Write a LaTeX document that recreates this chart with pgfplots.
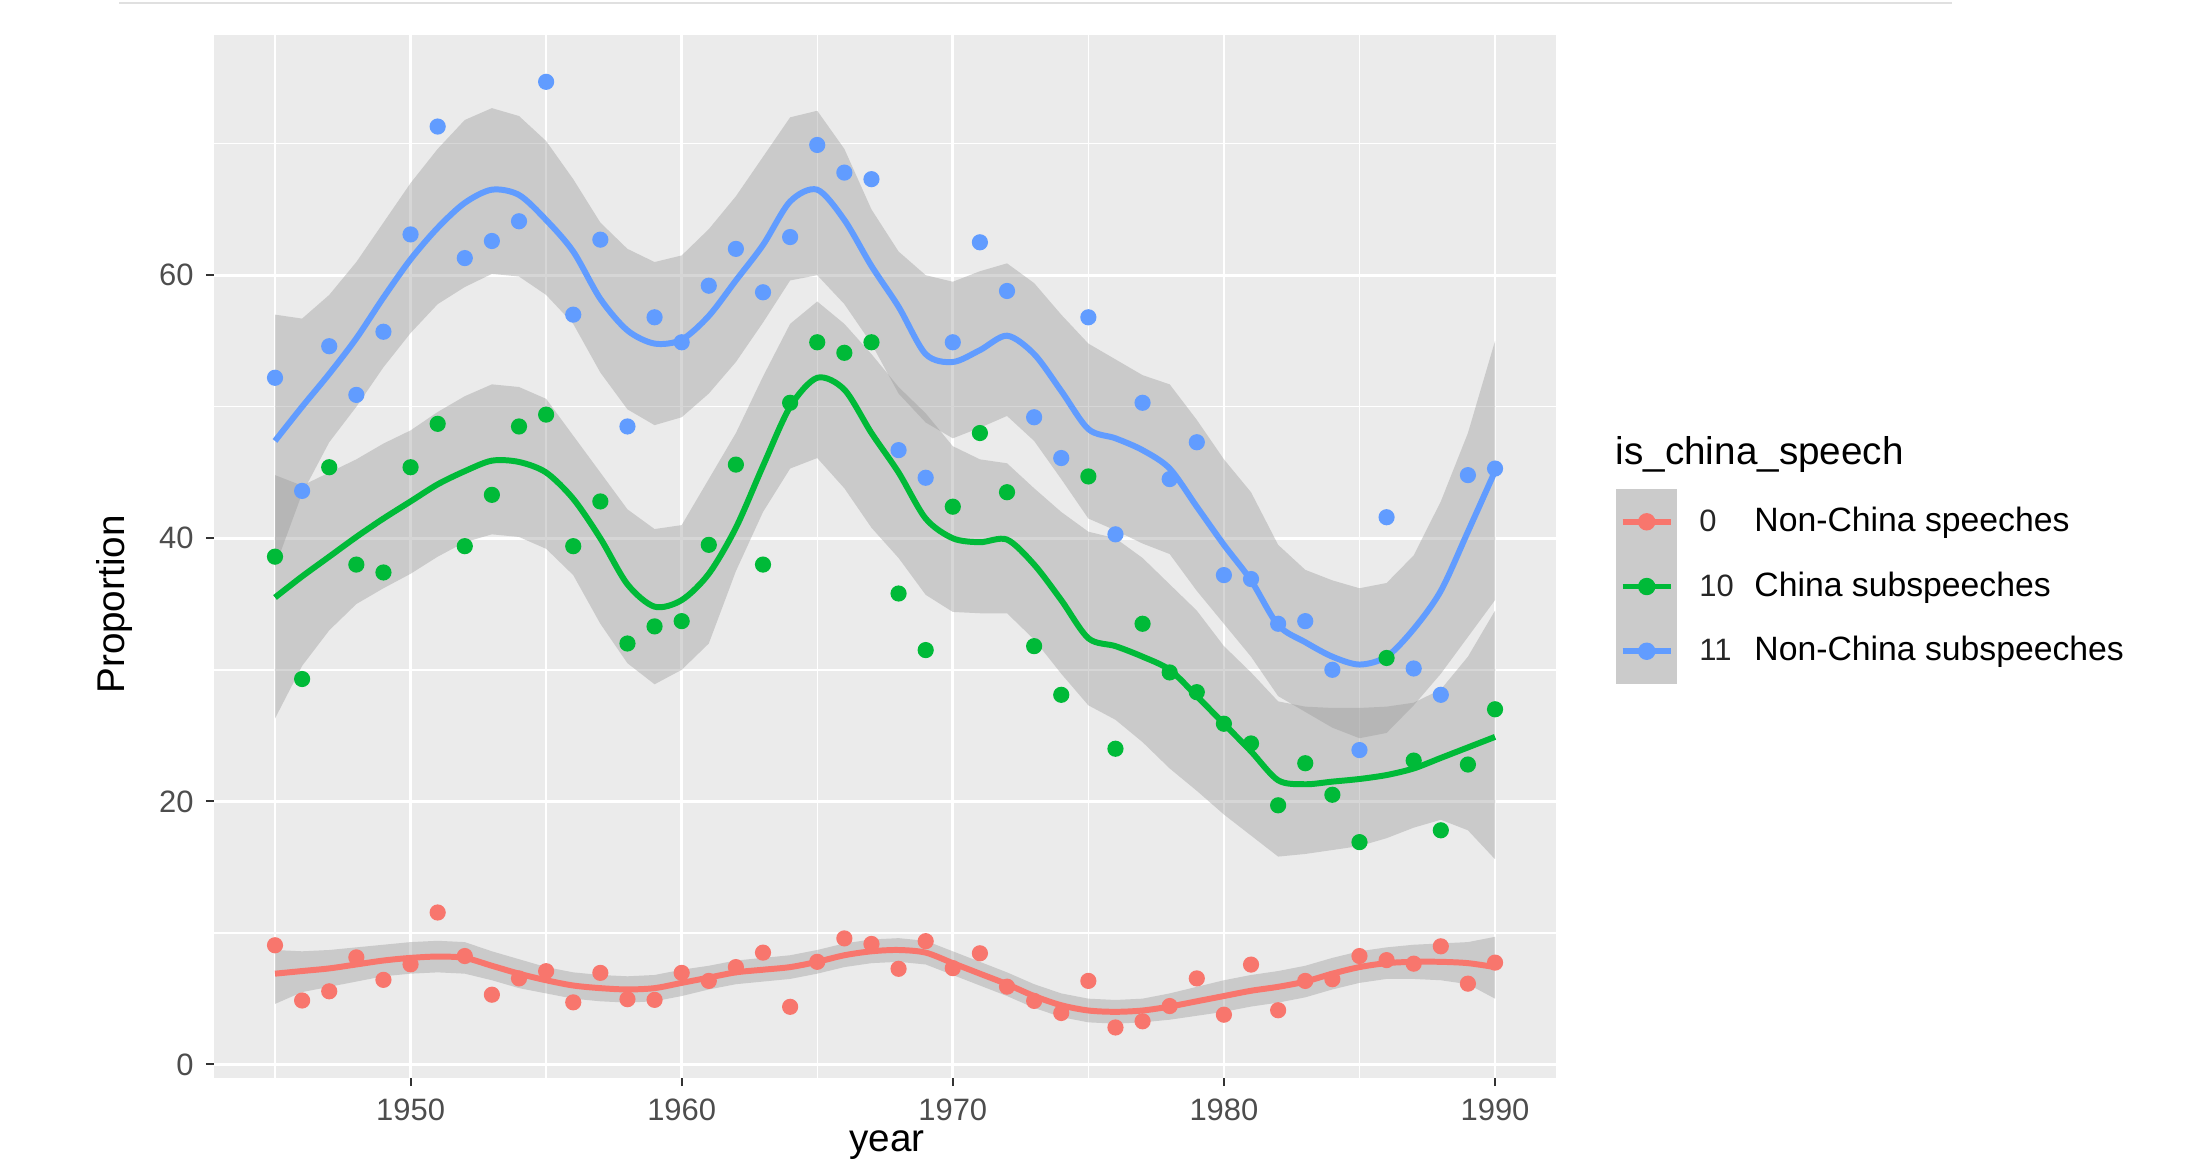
\documentclass[border=0pt]{standalone}
\usepackage{pgfplots}
\pgfplotsset{compat=1.18}
\usepackage{pgfplotstable}
\usepgfplotslibrary{fillbetween}
\usepackage{fontspec}
\setmainfont{Liberation Sans}
\definecolor{ggred}{HTML}{F8766D}
\definecolor{gggreen}{HTML}{00BA38}
\definecolor{ggblue}{HTML}{619CFF}
\definecolor{ggbg}{HTML}{EBEBEB}
\definecolor{ggribbon}{HTML}{999999}
\definecolor{ggtick}{HTML}{333333}
\definecolor{ggtext}{HTML}{4D4D4D}
\definecolor{keybg}{HTML}{CBCBCB}

\pgfplotstableread{
year pt fit up lo
1945 9.06 6.9 8.7 4.6
1946 4.86 7.1 8.6 5.5
1947 5.56 7.3 8.7 5.9
1948 8.14 7.6 8.9 6.3
1949 6.43 7.9 9.1 6.7
1950 7.61 8.1 9.3 6.9
1951 11.55 8.2 9.4 7.0
1952 8.24 8.1 9.3 6.9
1953 5.30 7.5 8.6 6.4
1954 6.54 6.9 8.0 5.8
1955 7.09 6.4 7.4 5.4
1956 4.72 6.0 7.0 5.0
1957 6.96 5.8 6.8 4.8
1958 4.96 5.7 6.7 4.7
1959 4.91 5.8 6.8 4.8
1960 6.96 6.2 7.2 5.2
1961 6.35 6.6 7.5 5.7
1962 7.40 7.0 7.9 6.1
1963 8.50 7.2 8.1 6.3
1964 4.38 7.4 8.3 6.5
1965 7.80 7.8 8.7 6.9
1966 9.58 8.3 9.2 7.4
1967 9.16 8.6 9.5 7.7
1968 7.27 8.7 9.6 7.8
1969 9.37 8.5 9.4 7.6
1970 7.32 7.7 8.6 6.8
1971 8.45 6.9 7.8 6.0
1972 5.91 6.1 7.0 5.2
1973 4.83 5.2 6.1 4.3
1974 3.91 4.5 5.4 3.6
1975 6.35 4.1 5.0 3.2
1976 2.81 4.0 4.9 3.1
1977 3.28 4.1 5.0 3.2
1978 4.44 4.4 5.4 3.4
1979 6.54 4.8 5.9 3.7
1980 3.78 5.2 6.4 4.0
1981 7.59 5.6 6.8 4.4
1982 4.12 5.9 7.1 4.7
1983 6.35 6.3 7.5 5.1
1984 6.48 6.9 8.1 5.7
1985 8.24 7.4 8.6 6.2
1986 7.93 7.7 8.9 6.5
1987 7.66 7.8 9.1 6.5
1988 8.98 7.8 9.2 6.4
1989 6.14 7.7 9.3 6.1
1990 7.74 7.4 9.7 5.0
}\redtab

\pgfplotstableread{
year pt fit up lo
1945 38.6 35.5 44.8 26.3
1946 29.3 37.1 44.0 30.3
1947 45.4 38.6 45.0 33.0
1948 38.0 40.1 46.0 35.0
1949 37.4 41.5 47.2 36.2
1950 45.4 42.8 48.2 37.3
1951 48.7 44.1 49.6 38.6
1952 39.4 45.1 50.8 39.7
1953 43.3 45.9 51.7 40.3
1954 48.5 45.8 51.5 40.1
1955 49.4 45.0 50.6 39.2
1956 39.4 43.0 47.8 37.2
1957 42.8 40.0 45.0 33.5
1958 32.0 36.5 42.2 30.5
1959 33.3 34.8 40.7 28.9
1960 33.7 35.3 41.0 30.0
1961 39.5 37.3 44.5 32.0
1962 45.6 40.8 48.0 37.5
1963 38.0 45.5 52.3 42.0
1964 50.3 50.0 56.3 45.3
1965 54.9 52.2 58.0 46.1
1966 54.1 51.3 56.3 43.8
1967 54.9 48.0 54.0 40.8
1968 35.8 45.0 51.5 38.5
1969 31.5 41.5 49.5 35.7
1970 42.4 40.0 47.0 34.4
1971 48.0 39.7 46.0 34.3
1972 43.5 39.9 45.7 34.3
1973 31.8 38.0 43.8 32.3
1974 28.1 35.3 42.0 29.7
1975 44.7 32.4 40.5 27.3
1976 24.0 31.8 40.0 26.2
1977 33.5 31.0 38.5 24.5
1978 29.8 30.0 36.5 22.5
1979 28.3 28.0 34.5 20.8
1980 25.9 25.9 31.8 19.0
1981 24.4 23.8 29.8 17.4
1982 19.7 21.6 27.6 15.8
1983 22.9 21.3 27.2 16.0
1984 20.5 21.5 27.1 16.3
1985 16.9 21.7 27.1 16.6
1986 30.9 22.0 27.2 17.2
1987 23.1 22.5 27.5 18.0
1988 17.8 23.3 28.5 18.6
1989 22.8 24.1 31.0 17.8
1990 27.0 24.9 34.5 15.6
}\greentab

\pgfplotstableread{
year pt fit up lo
1945 52.2 47.4 57.0 37.8
1946 43.6 50.0 56.7 43.4
1947 54.6 52.5 58.5 47.3
1948 50.9 55.2 61.0 50.0
1949 55.7 58.3 64.0 53.0
1950 63.1 61.2 67.0 55.6
1951 71.3 63.6 69.6 57.8
1952 61.3 65.5 71.8 59.1
1953 62.6 66.5 72.7 60.1
1954 64.1 66.1 72.1 59.9
1955 74.7 64.2 70.2 58.5
1956 57.0 61.8 67.3 56.3
1957 62.7 58.2 64.0 52.6
1958 48.5 55.8 62.0 49.8
1959 56.8 54.8 61.0 48.6
1960 54.9 55.1 61.5 49.2
1961 59.2 56.9 63.5 51.0
1962 62.0 59.6 66.0 53.4
1963 58.7 62.3 69.0 56.4
1964 62.9 65.6 72.0 59.6
1965 69.9 66.5 72.5 60.0
1966 67.8 64.2 69.6 57.8
1967 67.3 60.7 65.0 54.8
1968 46.7 57.6 61.8 51.0
1969 44.6 54.0 60.0 48.8
1970 54.9 53.4 59.5 47.6
1971 62.5 54.3 60.3 48.4
1972 58.8 55.4 60.9 49.3
1973 49.2 54.0 59.4 47.4
1974 46.1 51.2 57.0 44.5
1975 56.8 48.3 54.8 41.5
1976 40.3 47.6 53.6 40.6
1977 50.3 46.7 52.4 39.6
1978 44.5 45.3 51.7 38.8
1979 47.3 42.4 49.0 36.0
1980 37.2 39.5 46.0 33.5
1981 36.9 36.8 43.5 31.0
1982 33.5 33.4 39.5 28.0
1983 33.7 32.1 37.6 26.8
1984 30.0 31.0 36.8 25.6
1985 23.9 30.4 36.2 24.8
1986 41.6 31.0 36.6 25.2
1987 30.1 33.1 38.7 27.3
1988 28.1 36.0 42.8 29.7
1989 44.8 40.5 48.0 32.5
1990 45.3 45.1 55.0 35.3
}\bluetab

\begin{document}
\begin{tikzpicture}
\begin{axis}[
  set layers,
  at={(2.14cm,0.89cm)}, anchor=south west,
  width=13.42cm, height=10.43cm, scale only axis,
  xmin=1942.75, xmax=1992.25, ymin=-1.03, ymax=78.26,
  axis background/.style={fill=ggbg},
  axis line style={draw=none},
  xtick={1950,1960,...,1990}, ytick={0,20,40,60},
  minor xtick={1945,1955,...,1985}, minor ytick={10,30,50,70},
  grid=both,
  major grid style={white, line width=0.8pt},
  minor grid style={white, line width=0.4pt},
  tick pos=left, tick align=outside,
  major tick length=2.3pt, minor tick length=0pt,
  tick style={ggtick, line width=0.55pt},
  ticklabel style={font=\fontsize{8.8pt}{10pt}\selectfont, color=ggtext},
  /pgf/number format/assume math mode=true,
  /pgf/number format/set thousands separator={},
  xlabel={year}, ylabel={Proportion},
  label style={font=\fontsize{11pt}{13pt}\selectfont, color=black},
  xlabel style={at={(axis description cs:0.5015,-0.0642)}, anchor=center, inner sep=0pt},
  ylabel style={at={(axis description cs:-0.074,0.454)}, anchor=center},
  legend style={at={(axis description cs:1.0447,0.5475)}, anchor=north west,
    draw=none, fill=none, inner sep=0pt, outer sep=0pt,
    nodes={inner sep=0pt}, column sep=0.22cm, row sep=0.35cm,
    font=\fontsize{9.6pt}{11pt}\selectfont},
  legend cell align=left,
]
% points (below the ribbons)
\addplot[on layer=pre main, only marks, mark=*, mark size=2.1pt, color=ggred, mark options={draw=none}, forget plot] table[x=year,y=pt]{\redtab};
\addplot[on layer=pre main, only marks, mark=*, mark size=2.1pt, color=gggreen, mark options={draw=none}, forget plot] table[x=year,y=pt]{\greentab};
\addplot[on layer=pre main, only marks, mark=*, mark size=2.1pt, color=ggblue, mark options={draw=none}, forget plot] table[x=year,y=pt]{\bluetab};
% red smooth
\addplot[draw=none, name path=rU, forget plot] table[x=year,y=up]{\redtab};
\addplot[draw=none, name path=rL, forget plot] table[x=year,y=lo]{\redtab};
\addplot[fill=ggribbon, fill opacity=0.4, draw=none, forget plot] fill between[of=rU and rL];
\addplot[smooth, color=ggred, line width=1.7pt, forget plot] table[x=year,y=fit]{\redtab};
% green smooth
\addplot[draw=none, name path=gU, forget plot] table[x=year,y=up]{\greentab};
\addplot[draw=none, name path=gL, forget plot] table[x=year,y=lo]{\greentab};
\addplot[fill=ggribbon, fill opacity=0.4, draw=none, forget plot] fill between[of=gU and gL];
\addplot[smooth, color=gggreen, line width=1.7pt, forget plot] table[x=year,y=fit]{\greentab};
% blue smooth
\addplot[draw=none, name path=bU, forget plot] table[x=year,y=up]{\bluetab};
\addplot[draw=none, name path=bL, forget plot] table[x=year,y=lo]{\bluetab};
\addplot[fill=ggribbon, fill opacity=0.4, draw=none, forget plot] fill between[of=bU and bL];
\addplot[smooth, color=ggblue, line width=1.7pt, forget plot] table[x=year,y=fit]{\bluetab};
% legend
\addlegendimage{legend image code/.code={
  \path (0cm,0cm) -- (0.6cm,0cm);
  \fill[keybg, overlay] (0cm,-0.3225cm) rectangle (0.6cm,0.3225cm);
  \draw[ggred, line width=1.6pt] (0.06cm,0cm) -- (0.54cm,0cm);
  \fill[ggred] (0.3cm,0cm) circle (0.8mm);}}
\addlegendentry{\makebox[0.55cm][l]{\fontsize{8.8pt}{10pt}\selectfont\color{black!85}0}Non-China speeches}
\addlegendimage{legend image code/.code={
  \path (0cm,0cm) -- (0.6cm,0cm);
  \fill[keybg, overlay] (0cm,-0.3225cm) rectangle (0.6cm,0.3225cm);
  \draw[gggreen, line width=1.6pt] (0.06cm,0cm) -- (0.54cm,0cm);
  \fill[gggreen] (0.3cm,0cm) circle (0.8mm);}}
\addlegendentry{\makebox[0.55cm][l]{\fontsize{8.8pt}{10pt}\selectfont\color{black!85}10}China subspeeches}
\addlegendimage{legend image code/.code={
  \path (0cm,0cm) -- (0.6cm,0cm);
  \fill[keybg, overlay] (0cm,-0.3225cm) rectangle (0.6cm,0.3225cm);
  \draw[ggblue, line width=1.6pt] (0.06cm,0cm) -- (0.54cm,0cm);
  \fill[ggblue] (0.3cm,0cm) circle (0.8mm);}}
\addlegendentry{\makebox[0.55cm][l]{\fontsize{8.8pt}{10pt}\selectfont\color{black!85}11}Non-China subspeeches}
\end{axis}
\node[anchor=base west, inner sep=0pt, font=\fontsize{11pt}{13pt}\selectfont] at (16.15cm,7.02cm) {is\_china\_speech};
\draw[color=black!12, line width=0.8pt] (1.19cm,11.64cm) -- (19.52cm,11.64cm);
\pgfresetboundingbox
\useasboundingbox (0,0) rectangle (22.02cm,11.67cm);
\end{tikzpicture}
\end{document}
